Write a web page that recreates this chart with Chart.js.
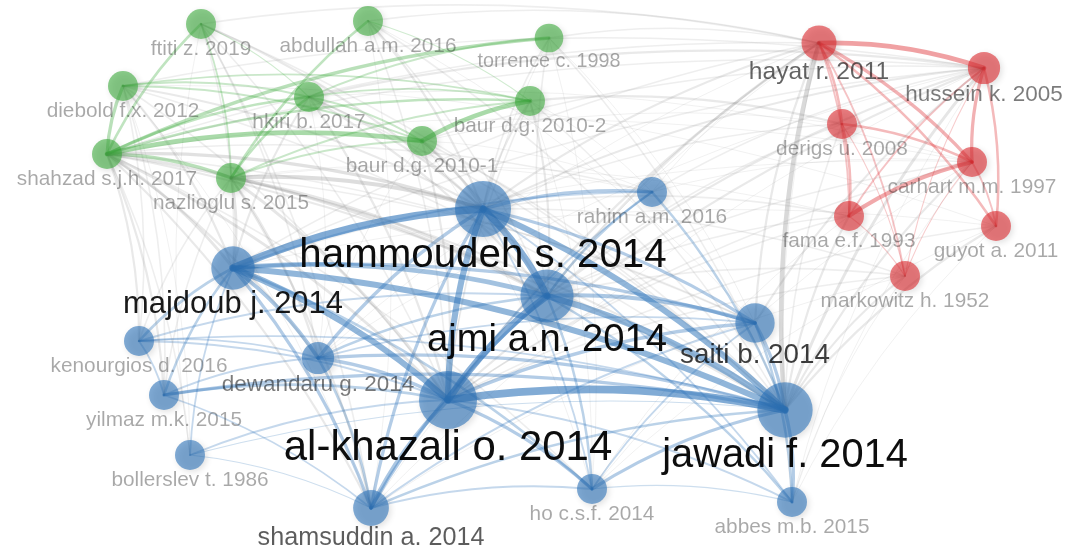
<!DOCTYPE html>
<html>
<head>
<meta charset="utf-8">
<script src="https://cdn.jsdelivr.net/npm/chart.js@4.4.1/dist/chart.umd.min.js"></script>
<style>
  html, body { margin: 0; padding: 0; background: #fff; }
  #wrap { width: 1065px; height: 551px; }
</style>
</head>
<body>
<div id="wrap"><canvas id="network"></canvas></div>
<script>
// co-citation map (VOSviewer style), map units = layout space
const labels = [
  "ftiti z. 2019", "abdullah a.m. 2016", "torrence c. 1998", "diebold f.x. 2012",
  "hkiri b. 2017", "baur d.g. 2010-2", "baur d.g. 2010-1", "shahzad s.j.h. 2017",
  "nazlioglu s. 2015", "hayat r. 2011", "hussein k. 2005", "derigs u. 2008",
  "carhart m.m. 1997", "fama e.f. 1993", "guyot a. 2011", "markowitz h. 1952",
  "hammoudeh s. 2014", "rahim a.m. 2016", "majdoub j. 2014", "ajmi a.n. 2014",
  "saiti b. 2014", "kenourgios d. 2016", "dewandaru g. 2014", "yilmaz m.k. 2015",
  "al-khazali o. 2014", "jawadi f. 2014", "bollerslev t. 1986", "shamsuddin a. 2014",
  "ho c.s.f. 2014", "abbes m.b. 2015"
];
const mapX = [201, 368, 549, 123, 309, 530, 422, 107, 231, 819, 984, 842, 972, 849, 996, 905,
              483, 652, 233, 547, 755, 139, 318, 164, 448, 785, 190, 371, 592, 792];
const mapY = [24, 21, 38, 86, 97, 101, 141, 154, 178, 43, 68, 124, 162, 216, 226, 276,
              209, 192, 268, 296, 323, 341, 358, 395, 400, 410, 455, 508, 489, 502];
const weights = [4, 4, 3, 4, 4, 4, 4, 4, 4, 9, 6, 4, 4, 4, 4, 4,
                 52, 4, 22, 44, 15, 4, 6, 4, 58, 50, 4, 10, 4, 4];
// 1 = blue, 2 = green, 3 = red
const clusters = [2, 2, 2, 2, 2, 2, 2, 2, 2, 3, 3, 3, 3, 3, 3, 3,
                  1, 1, 1, 1, 1, 1, 1, 1, 1, 1, 1, 1, 1, 1];
// [from, to, strength]
const links = [
  [16,18,10],[16,19,9],[16,24,8],[16,25,8],[18,19,6],[18,24,8],[18,25,8],[19,24,9],[19,25,8],[24,25,10],
  [16,20,4],[19,20,5],[24,20,4],[18,20,4],[20,25,4],
  [16,27,4],[24,27,5],[18,27,4],[19,27,4],[25,27,3],
  [22,16,4],[22,19,3],[22,24,4],[22,25,4],[18,22,5],
  [23,25,4],[23,24,3],[23,18,3],[23,22,2],[23,21,2],
  [24,28,4],[25,28,4],[19,28,3],[16,28,2],[18,28,3],[27,28,2],
  [25,29,4],[20,29,3],[19,29,3],[24,29,2],[16,29,2],[28,29,1],
  [17,16,4],[17,19,3],[17,25,3],[17,18,2],[17,24,2],
  [21,18,3],[21,24,2],[21,19,2],[21,25,2],
  [26,24,2],[26,18,2],[26,25,1],[26,27,1],
  [27,22,3],[27,23,2],[22,21,2],[28,20,2],[27,20,2],[22,20,2],
  [7,3,4],[7,4,3],[7,6,6],[7,5,3],[7,2,4],[7,8,4],[7,0,3],[8,1,3],[8,4,3],[6,5,6],
  [3,4,2],[3,6,2],[3,5,2],[4,5,2],[4,6,2],[8,6,2],[8,5,2],[4,2,2],[0,4,1],[1,5,1],[0,8,2],
  [9,10,6],[9,11,3],[9,12,4],[9,13,2],[9,15,2],[9,14,3],[10,12,4],[10,14,3],[10,13,2],
  [11,13,3],[11,12,3],[13,12,5],[12,14,2],[11,15,1],[13,15,1],[10,15,1],[12,15,1],
  [9,25,7],[8,16,6],[7,16,5],[7,24,4],[7,18,4],[7,19,4],[7,25,3],[8,24,4],[8,19,4],[8,25,3],
  [8,18,4],[6,16,4],[6,19,3],[5,16,3],[5,11,3],[10,4,3],[9,0,2],[9,1,2],[9,2,2],[10,3,2],
  [9,16,3],[9,19,3],[9,24,3],[10,25,4],[10,19,3],[10,16,3],[12,25,3],[13,25,3],[15,25,3],
  [11,25,2],[14,25,3],[9,20,3],[10,20,3],[13,16,2],[13,19,2],[12,24,2],[15,24,2],[15,19,2],
  [10,24,3],[9,18,2],[3,18,3],[3,16,3],[3,24,2],[0,16,3],[0,18,2],[0,24,2],[1,16,3],[1,24,2],
  [2,16,2],[2,19,2],[4,16,3],[4,19,3],[4,24,3],[4,18,3],[5,19,3],[5,24,2],[6,24,3],[6,25,2],
  [2,25,2],[7,21,3],[7,23,3],[7,22,3],[7,26,2],[7,27,3],[8,22,3],[8,27,3],[3,21,2],[3,23,2],
  [0,22,2],[0,27,2],[1,19,2],[7,20,2],[8,20,2],[7,28,2],[6,28,1],[5,25,2],[2,24,1],
  [9,7,2],[10,7,2],[12,7,1],[13,8,1],[10,6,2],[12,4,1],[14,3,1],[11,6,1],[15,16,2],[14,24,2],
  [12,19,2],[11,19,2],[13,24,2],[15,27,1],[14,28,1],[12,29,1],[10,29,1],[14,29,1],[13,28,1],
  [15,29,1],[11,16,2],[9,17,1],[10,17,2],[12,17,1],[3,27,1],[0,26,1],[3,26,1],[1,27,1],
  [2,28,1],[5,28,1],[17,5,1],[17,6,1],[17,7,2],[17,8,1],[2,20,1],[1,20,1],[0,25,2],[1,25,2],
  [4,25,2],[3,25,2],[8,23,2],[8,21,2],[6,22,1],[4,22,1],[9,22,1],[10,22,1],[10,18,2],
  [12,18,1],[14,18,1],[9,27,1],[10,27,1],[9,29,1],[12,28,1]
];

const clusterRgb = { 1: "45,115,185", 2: "60,170,60", 3: "220,40,45" };
const bend = 0.09;

function radius(w) { return 10 + 2.5 * Math.sqrt(w); }
function fontSize(w) { return 13.3 + 3.75 * Math.sqrt(w); }
function labelAlpha(w) {
  if (w <= 5) return 0.34;
  return Math.min(0.95, 0.1 + 0.17 * Math.sqrt(w));
}

// edges, drawn under the nodes
const linkLayer = {
  id: 'linkLayer',
  beforeDatasetsDraw(chart) {
    const ctx = chart.ctx;
    const xs = chart.scales.x, ys = chart.scales.y;
    const sorted = links.slice().sort((a, b) => a[2] - b[2]);
    ctx.save();
    ctx.lineCap = 'round';
    sorted.forEach(function (l) {
      let p = { x: xs.getPixelForValue(mapX[l[0]]), y: ys.getPixelForValue(mapY[l[0]]) };
      let q = { x: xs.getPixelForValue(mapX[l[1]]), y: ys.getPixelForValue(mapY[l[1]]) };
      if (p.x > q.x) { const t = p; p = q; q = t; }
      const dx = q.x - p.x, dy = q.y - p.y;
      const cx = (p.x + q.x) / 2 + dy * bend;
      const cy = (p.y + q.y) / 2 - dx * bend;
      const s = l[2];
      const same = clusters[l[0]] === clusters[l[1]];
      if (same) {
        ctx.strokeStyle = 'rgba(' + clusterRgb[clusters[l[0]]] + ',' + (0.2 + 0.04 * s) + ')';
        ctx.lineWidth = 0.4 + 0.72 * s;
      } else {
        ctx.strokeStyle = 'rgba(120,120,120,' + (0.07 + 0.03 * s) + ')';
        ctx.lineWidth = 0.4 + 0.6 * s;
      }
      ctx.beginPath();
      ctx.moveTo(p.x, p.y);
      ctx.quadraticCurveTo(cx, cy, q.x, q.y);
      ctx.stroke();
    });
    ctx.restore();
  }
};

const nodeShadow = {
  id: 'nodeShadow',
  beforeDatasetDraw(chart) {
    const ctx = chart.ctx;
    ctx.save();
    ctx.shadowColor = 'rgba(0,0,0,0.2)';
    ctx.shadowBlur = 6;
    ctx.shadowOffsetX = 2;
    ctx.shadowOffsetY = 2;
  },
  afterDatasetDraw(chart) {
    chart.ctx.restore();
  }
};

// labels on top of everything
const nodeLabels = {
  id: 'nodeLabels',
  afterDatasetsDraw(chart) {
    const ctx = chart.ctx;
    const items = [];
    chart.data.datasets.forEach(function (ds, di) {
      const meta = chart.getDatasetMeta(di);
      ds.data.forEach(function (d, j) {
        const el = meta.data[j];
        items.push({ i: d.i, x: el.x, y: el.y, r: d.r });
      });
    });
    items.sort((a, b) => weights[a.i] - weights[b.i]);
    ctx.save();
    ctx.textAlign = 'center';
    ctx.textBaseline = 'middle';
    items.forEach(function (it) {
      const w = weights[it.i];
      const fs = fontSize(w);
      ctx.font = fs.toFixed(1) + 'px "Liberation Sans", Arial, Helvetica, sans-serif';
      ctx.fillStyle = 'rgba(0,0,0,' + labelAlpha(w) + ')';
      ctx.fillText(labels[it.i], it.x, it.y + it.r + fs * 0.47);
    });
    ctx.restore();
  }
};

function clusterData(c) {
  const out = [];
  labels.forEach(function (lab, i) {
    if (clusters[i] === c) out.push({ x: mapX[i], y: mapY[i], r: radius(weights[i]), i: i });
  });
  return out;
}

const datasets = [1, 2, 3].map(function (c) {
  return {
    label: 'cluster ' + c,
    data: clusterData(c),
    backgroundColor: 'rgba(' + clusterRgb[c] + ',0.6)',
    borderWidth: 0,
    hoverBorderWidth: 0,
    clip: false
  };
});

new Chart(document.getElementById('network'), {
  type: 'bubble',
  data: { datasets: datasets },
  options: {
    responsive: true,
    maintainAspectRatio: false,
    animation: false,
    layout: { padding: 0, autoPadding: false },
    plugins: { legend: { display: false }, tooltip: { enabled: false } },
    scales: {
      x: { type: 'linear', min: 0, max: 1065, display: false },
      y: { type: 'linear', min: 0, max: 551, reverse: true, display: false }
    }
  },
  plugins: [linkLayer, nodeShadow, nodeLabels]
});
</script>
</body>
</html>
